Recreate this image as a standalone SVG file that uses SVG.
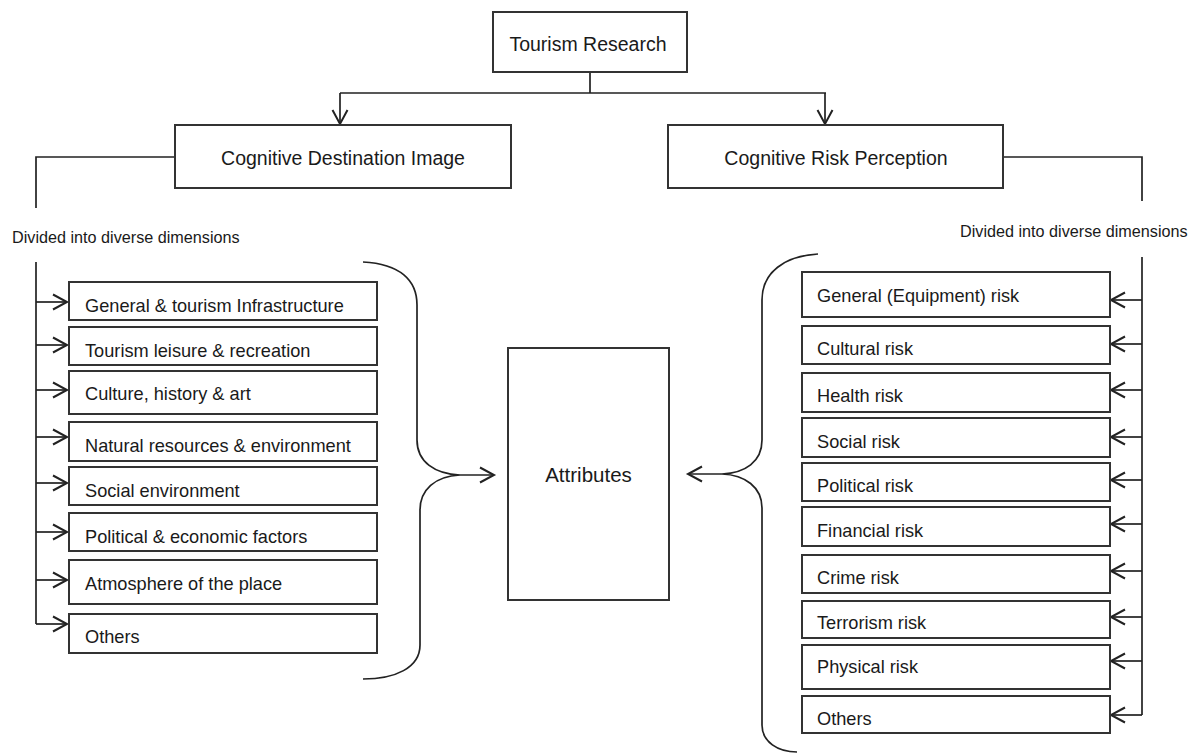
<svg xmlns="http://www.w3.org/2000/svg" width="1196" height="753" viewBox="0 0 1196 753">
<style>
.box{fill:#fff;stroke:#333;stroke-width:2}
.ln{fill:none;stroke:#222;stroke-width:1.7}
.t{font-family:"Liberation Sans",Arial,sans-serif;fill:#1a1a1a}
.h{font-size:19.5px}
.i{font-size:18.2px}
.d{font-size:16.2px}
.a{font-size:20.5px}
</style>
<defs>
<marker id="ah" markerUnits="userSpaceOnUse" markerWidth="22" markerHeight="22" refX="15" refY="9" orient="auto">
<path d="M1,1.5 L15,9 L1,16.5" fill="none" stroke="#222" stroke-width="2"/>
</marker>
</defs>
<rect width="1196" height="753" fill="#fff"/>
<g id="connectors">
<path class="ln" d="M590,72 L590,93 M340,93 L826,93"/>
<path class="ln" d="M340,93 L340,124" marker-end="url(#ah)"/>
<path class="ln" d="M825,93 L825,124" marker-end="url(#ah)"/>
<path class="ln" d="M175,157 L36,157 L36,208"/>
<path class="ln" d="M36,262 L36,624"/>
<path class="ln" d="M36,302 L67,302" marker-end="url(#ah)"/>
<path class="ln" d="M36,345 L67,345" marker-end="url(#ah)"/>
<path class="ln" d="M36,390 L67,390" marker-end="url(#ah)"/>
<path class="ln" d="M36,437 L67,437" marker-end="url(#ah)"/>
<path class="ln" d="M36,483 L67,483" marker-end="url(#ah)"/>
<path class="ln" d="M36,532 L67,532" marker-end="url(#ah)"/>
<path class="ln" d="M36,580 L67,580" marker-end="url(#ah)"/>
<path class="ln" d="M36,624 L67,624" marker-end="url(#ah)"/>
<path class="ln" d="M1003,157 L1142,157 L1142,201"/>
<path class="ln" d="M1142,257 L1142,715"/>
<path class="ln" d="M1142,300 L1111,300" marker-end="url(#ah)"/>
<path class="ln" d="M1142,344 L1111,344" marker-end="url(#ah)"/>
<path class="ln" d="M1142,390 L1111,390" marker-end="url(#ah)"/>
<path class="ln" d="M1142,437 L1111,437" marker-end="url(#ah)"/>
<path class="ln" d="M1142,480 L1111,480" marker-end="url(#ah)"/>
<path class="ln" d="M1142,524 L1111,524" marker-end="url(#ah)"/>
<path class="ln" d="M1142,571 L1111,571" marker-end="url(#ah)"/>
<path class="ln" d="M1142,617 L1111,617" marker-end="url(#ah)"/>
<path class="ln" d="M1142,661 L1111,661" marker-end="url(#ah)"/>
<path class="ln" d="M1142,715 L1111,715" marker-end="url(#ah)"/>
<path class="ln" d="M363,262 C400,264 417,280 417,305 L417,440 C417,462 435,474 460,475 C435,476 420,490 420,510 L420,645 C420,668 395,679 363,679"/>
<path class="ln" d="M460,475 L494,475" marker-end="url(#ah)"/>
<path class="ln" d="M818,254 C785,256 762,272 762,300 L762,440 C762,462 745,473 722,474 C745,475 762,487 762,508 L762,725 C762,742 778,752 797,752"/>
<path class="ln" d="M722,474 L688,474" marker-end="url(#ah)"/>
</g>
<g id="tourism-research"><rect class="box" x="493" y="12" width="194" height="60"/><text class="t h" x="588" y="51" text-anchor="middle">Tourism Research</text></g>
<g id="cdi"><rect class="box" x="175" y="125" width="336" height="63"/><text class="t h" x="343" y="165" text-anchor="middle">Cognitive Destination Image</text></g>
<g id="crp"><rect class="box" x="668" y="125" width="335" height="63"/><text class="t h" x="836" y="165" text-anchor="middle">Cognitive Risk Perception</text></g>
<g id="divided-left"><text class="t d" x="12" y="243">Divided into diverse dimensions</text></g>
<g id="divided-right"><text class="t d" x="960" y="237">Divided into diverse dimensions</text></g>
<g id="attributes"><rect class="box" x="508" y="348" width="161" height="252"/><text class="t a" x="588.5" y="482" text-anchor="middle">Attributes</text></g>
<g id="l1"><rect class="box" x="69" y="282" width="308" height="38"/><text class="t i" x="85" y="312">General &amp; tourism Infrastructure</text></g>
<g id="l2"><rect class="box" x="69" y="327" width="308" height="38"/><text class="t i" x="85" y="357">Tourism leisure &amp; recreation</text></g>
<g id="l3"><rect class="box" x="69" y="371" width="308" height="43"/><text class="t i" x="85" y="400">Culture, history &amp; art</text></g>
<g id="l4"><rect class="box" x="69" y="422" width="308" height="39"/><text class="t i" x="85" y="452">Natural resources &amp; environment</text></g>
<g id="l5"><rect class="box" x="69" y="467" width="308" height="38"/><text class="t i" x="85" y="497">Social environment</text></g>
<g id="l6"><rect class="box" x="69" y="513" width="308" height="38"/><text class="t i" x="85" y="543">Political &amp; economic factors</text></g>
<g id="l7"><rect class="box" x="69" y="560" width="308" height="44"/><text class="t i" x="85" y="590">Atmosphere of the place</text></g>
<g id="l8"><rect class="box" x="69" y="614" width="308" height="39"/><text class="t i" x="85" y="643">Others</text></g>
<g id="r1"><rect class="box" x="802" y="272" width="308" height="45"/><text class="t i" x="817" y="302">General (Equipment) risk</text></g>
<g id="r2"><rect class="box" x="802" y="326" width="308" height="38"/><text class="t i" x="817" y="355">Cultural risk</text></g>
<g id="r3"><rect class="box" x="802" y="373" width="308" height="39"/><text class="t i" x="817" y="402">Health risk</text></g>
<g id="r4"><rect class="box" x="802" y="418" width="308" height="39"/><text class="t i" x="817" y="448">Social risk</text></g>
<g id="r5"><rect class="box" x="802" y="463" width="308" height="38"/><text class="t i" x="817" y="492">Political risk</text></g>
<g id="r6"><rect class="box" x="802" y="507" width="308" height="39"/><text class="t i" x="817" y="537">Financial risk</text></g>
<g id="r7"><rect class="box" x="802" y="555" width="308" height="38"/><text class="t i" x="817" y="584">Crime risk</text></g>
<g id="r8"><rect class="box" x="802" y="601" width="308" height="37"/><text class="t i" x="817" y="629">Terrorism risk</text></g>
<g id="r9"><rect class="box" x="802" y="645" width="308" height="44"/><text class="t i" x="817" y="673">Physical risk</text></g>
<g id="r10"><rect class="box" x="802" y="696" width="308" height="37"/><text class="t i" x="817" y="725">Others</text></g>
</svg>
